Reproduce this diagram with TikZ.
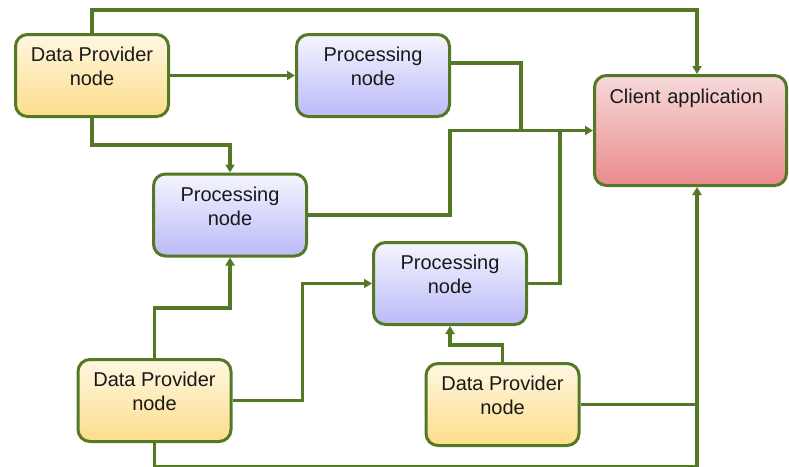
\documentclass[tikz,border=0pt]{standalone}
\usepackage{fontspec}
\setmainfont{Liberation Sans}
\usetikzlibrary{arrows.meta}
\begin{document}
\begin{tikzpicture}[x = 1pt, y = -1pt]
\definecolor{linegreen}{RGB}{84,120,38}
\definecolor{dptop}{RGB}{255,247,226}
\definecolor{dpbot}{RGB}{253,221,138}
\definecolor{prtop}{RGB}{245,245,255}
\definecolor{prbot}{RGB}{186,186,248}
\definecolor{cltop}{RGB}{247,218,218}
\definecolor{clbot}{RGB}{233,138,138}
\tikzset{box/.style = {draw = linegreen, line width = 3pt, rounded corners = 12pt, minimum width = 153pt, minimum height = 82pt, align = center, text depth = 18pt, font = \fontsize{20}{24}\selectfont, text = black!90}}
\tikzset{dpbox/.style = {box, top color = dptop, bottom color = dpbot}, prbox/.style = {box, top color = prtop, bottom color = prbot}}
\tikzset{link/.style = {draw = linegreen, line width = 3.2pt}, tip/.style = {-{Triangle[length = 8pt, width = 9pt]}}}
\useasboundingbox (0,0) rectangle (789,466);
\node[dpbox] (dp1) at (92,75.5) {Data Provider\\node};
\node[prbox] (p1) at (373,75.5) {Processing\\node};
\node[prbox] (p2) at (230,215) {Processing\\node};
\node[prbox] (p3) at (450,283.5) {Processing\\node};
\node[dpbox] (dp3) at (154.5,400.5) {Data Provider\\node};
\node[dpbox] (dp4) at (502.5,404.5) {Data Provider\\node};
\node[box, top color = cltop, bottom color = clbot, minimum width = 192pt, minimum height = 110pt, text width = 162pt, inner xsep = 15pt, align = left, text height = 15pt, text depth = 70pt] (client) at (690.5,130.5) {Client application};
\coordinate (bus) at ([xshift = -72pt]client.west);
\draw[link, tip] (dp1.north) -- ++(0,-23) -| ([xshift = 6.5pt]client.north);
\draw[link, tip] (dp1.east) -- (p1.west);
\draw[link, tip] (dp1.south) -- ++(0,27) -| (p2.north);
\draw[link] ([yshift = 12.5pt]p1.east) -| (bus);
\draw[link, tip] (p2.east) -- ++(142,0) |- (client.west);
\draw[link] (p3.east) -| ([xshift = 39pt]bus);
\draw[link, tip] (dp3.north) -- ++(0,-50) -| (p2.south);
\draw[link, tip] (dp3.east) -- ++(70,0) |- (p3.west);
\draw[link, tip] (dp4.north) -- ++(0,-17) -| (p3.south);
\draw[link, tip] (dp3.south) -- ++(0,23.5) -| ([xshift = 6.5pt]client.south);
\draw[link] (dp4.east) -- ([xshift = 6.5pt]client.south |- dp4.east);
\end{tikzpicture}
\end{document}
